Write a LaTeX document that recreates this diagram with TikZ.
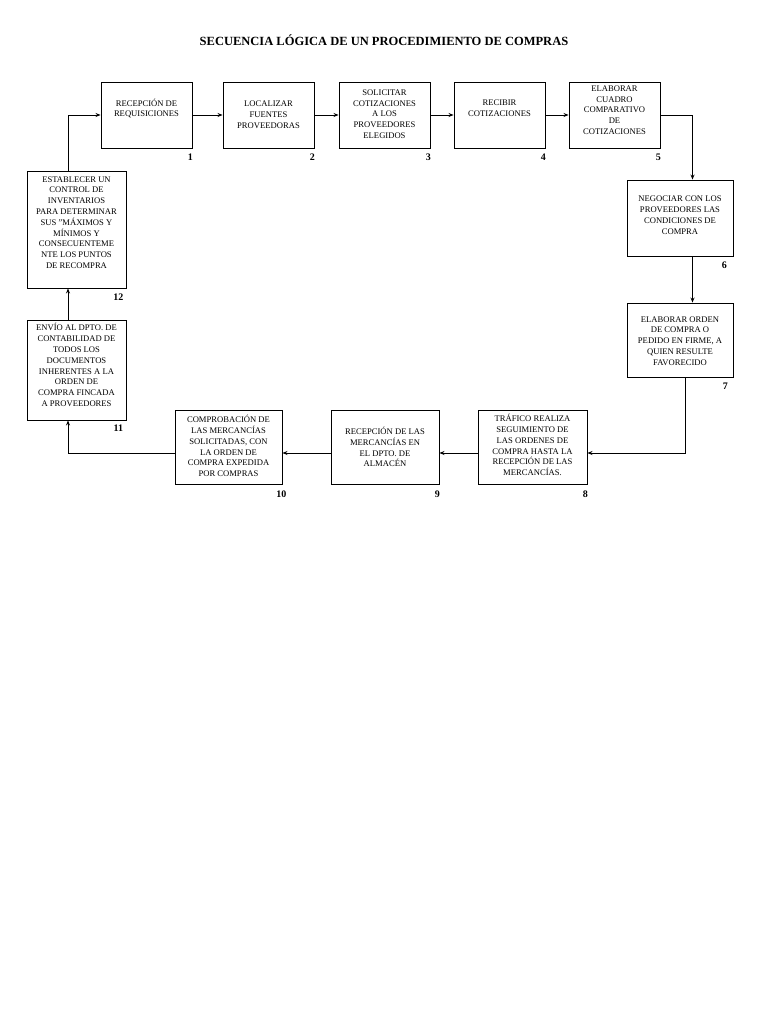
\documentclass[tikz,border=0pt]{standalone}
\usepackage{fontspec}
\setmainfont{Liberation Serif}
\usetikzlibrary{arrows.meta}
\begin{document}
\begin{tikzpicture}[x=1pt,y=-1pt,
  box/.style={draw=black,line width=0.9pt,rectangle,inner sep=0pt,fill=white},
  txt/.style={align=center,inner sep=0pt,font=\fontsize{8.6}{10.8}\selectfont},
  num/.style={inner sep=0pt,font=\fontsize{10}{12}\selectfont\bfseries},
  arr/.style={draw=black,line width=0.9pt,-{Stealth[length=5pt,width=4pt]}}]
\useasboundingbox (0,0) rectangle (768,1024);
\fill[white] (0,0) rectangle (768,1024);
\node[font=\fontsize{12.5}{15}\selectfont\bfseries,inner sep=0pt] (title) at (384,40) {SECUENCIA LÓGICA DE UN PROCEDIMIENTO DE COMPRAS};
% boxes
\node[box,minimum width=91,minimum height=66] (b1) at (146.5,115) {};
\node[box,minimum width=91,minimum height=66] (b2) at (268.5,115) {};
\node[box,minimum width=91,minimum height=66] (b3) at (384.5,115) {};
\node[box,minimum width=91,minimum height=66] (b4) at (499.5,115) {};
\node[box,minimum width=91,minimum height=66] (b5) at (614.5,115) {};
\node[box,minimum width=106,minimum height=76] (b6) at (680,218) {};
\node[box,minimum width=106,minimum height=74] (b7) at (680,340) {};
\node[box,minimum width=109,minimum height=74] (b8) at (532.5,447) {};
\node[box,minimum width=108,minimum height=74] (b9) at (385,447) {};
\node[box,minimum width=107,minimum height=74] (b10) at (228.5,447) {};
\node[box,minimum width=99,minimum height=100] (b11) at (76.5,370) {};
\node[box,minimum width=99,minimum height=117] (b12) at (76.5,229.5) {};
% texts
\node[txt] (t1) at ([yshift=6.5]b1.center) {RECEPCIÓN DE\\REQUISICIONES};
\node[txt] (t2) at ([yshift=0.5]b2.center) {LOCALIZAR\\FUENTES\\PROVEEDORAS};
\node[txt] (t3) at ([yshift=1]b3.center) {SOLICITAR\\COTIZACIONES\\A LOS\\PROVEEDORES\\ELEGIDOS};
\node[txt] (t4) at ([yshift=6.5]b4.center) {RECIBIR\\COTIZACIONES};
\node[txt] (t5) at ([yshift=5]b5.center) {ELABORAR\\CUADRO\\COMPARATIVO\\DE\\COTIZACIONES};
\node[txt] (t6) at ([yshift=3]b6.center) {NEGOCIAR CON LOS\\PROVEEDORES LAS\\CONDICIONES DE\\COMPRA};
\node[txt] (t7) at ([yshift=-1]b7.center) {ELABORAR ORDEN\\DE COMPRA O\\PEDIDO EN FIRME, A\\QUIEN RESULTE\\FAVORECIDO};
\node[txt] (t8) at ([yshift=2]b8.center) {TRÁFICO REALIZA\\SEGUIMIENTO DE\\LAS ORDENES DE\\COMPRA HASTA LA\\RECEPCIÓN DE LAS\\MERCANCÍAS.};
\node[txt] (t9) at ([yshift=0]b9.center) {RECEPCIÓN DE LAS\\MERCANCÍAS EN\\EL DPTO. DE\\ALMACÉN};
\node[txt] (t10) at ([yshift=1]b10.center) {COMPROBACIÓN DE\\LAS MERCANCÍAS\\SOLICITADAS, CON\\LA ORDEN DE\\COMPRA EXPEDIDA\\POR COMPRAS};
\node[txt] (t11) at ([yshift=5]b11.center) {ENVÍO AL DPTO. DE\\CONTABILIDAD DE\\TODOS LOS\\DOCUMENTOS\\INHERENTES A LA\\ORDEN DE\\COMPRA FINCADA\\A PROVEEDORES};
\node[txt] (t12) at ([yshift=7]b12.center) {ESTABLECER UN\\CONTROL DE\\INVENTARIOS\\PARA DETERMINAR\\SUS "MÁXIMOS Y\\MÍNIMOS Y\\CONSECUENTEME\\NTE LOS PUNTOS\\DE RECOMPRA};
% numbers
\node[num] (n1) at ([xshift=-2,yshift=-9]b1.south east) {1};
\node[num] (n2) at ([xshift=-2,yshift=-9]b2.south east) {2};
\node[num] (n3) at ([xshift=-2,yshift=-9]b3.south east) {3};
\node[num] (n4) at ([xshift=-2,yshift=-9]b4.south east) {4};
\node[num] (n5) at ([xshift=-2,yshift=-9]b5.south east) {5};
\node[num] (n6) at ([xshift=-9,yshift=-9]b6.south east) {6};
\node[num] (n7) at ([xshift=-8,yshift=-9]b7.south east) {7};
\node[num] (n8) at ([xshift=-2,yshift=-10]b8.south east) {8};
\node[num] (n9) at ([xshift=-2,yshift=-10]b9.south east) {9};
\node[num] (n10) at ([xshift=-1,yshift=-10]b10.south east) {10};
\node[num] (n11) at ([xshift=-8,yshift=-8]b11.south east) {11};
\node[num] (n12) at ([xshift=-8,yshift=-9]b12.south east) {12};
% connectors
\draw[arr] ([xshift=-8.5]b12.north) |- (b1.west);
\draw[arr] (b1.east) -- (b2.west);
\draw[arr] (b2.east) -- (b3.west);
\draw[arr] (b3.east) -- (b4.west);
\draw[arr] (b4.east) -- (b5.west);
\draw[arr] (b5.east) -| ([xshift=12.5]b6.north);
\draw[arr] ([xshift=12.5]b6.south) -- ([xshift=12.5]b7.north);
\draw[arr] ([xshift=5]b7.south) |- ([yshift=-6]b8.east);
\draw[arr] ([yshift=-6]b8.west) -- ([yshift=-6]b9.east);
\draw[arr] ([yshift=-6]b9.west) -- ([yshift=-6]b10.east);
\draw[arr] ([yshift=-6]b10.west) -| ([xshift=-8.5]b11.south);
\draw[arr] ([xshift=-8.5]b11.north) -- ([xshift=-8.5]b12.south);
\end{tikzpicture}
\end{document}
